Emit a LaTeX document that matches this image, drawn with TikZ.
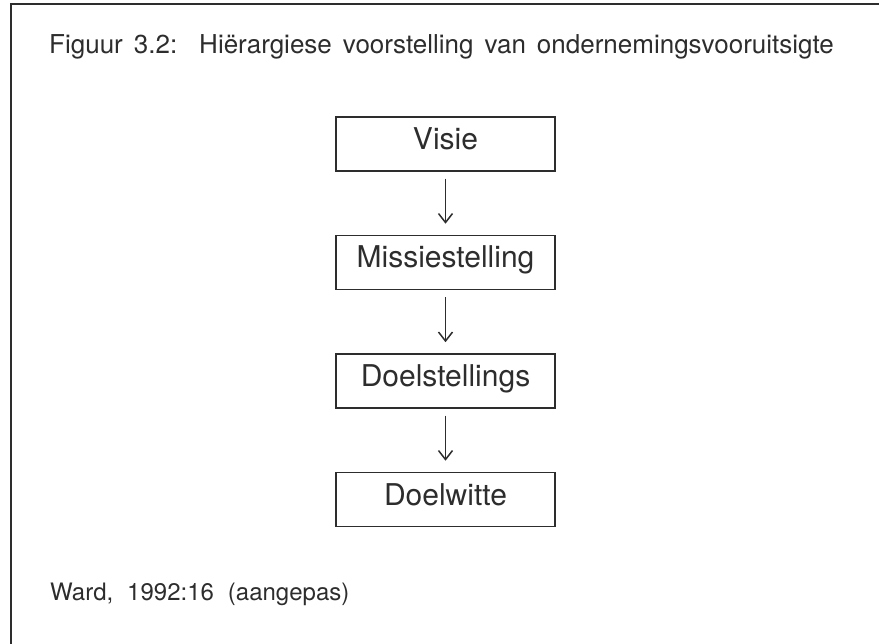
\documentclass[tikz,border=0pt]{standalone}
\usepackage{fontspec}
\setmainfont{TeX Gyre Heros}
\usetikzlibrary{positioning}
\usetikzlibrary{arrows.meta}
\definecolor{ink}{RGB}{45,45,45}
\newcommand\titelfont{\fontsize{26}{28}\selectfont\spaceskip=11pt\relax}
\newcommand\bronfont{\fontsize{24}{26}\selectfont\spaceskip=14pt\relax}

\begin{document}
\begin{tikzpicture}[x=1pt, y=-1pt,
  box/.style={draw=ink, line width=1.5pt, minimum width=219pt, minimum height=54pt,
              inner sep=0pt, text height=21pt, text depth=10pt,
              font=\fontsize{30}{32}\selectfont, text=ink},
  flow/.style={draw=ink, line width=1.5pt,
               -{Straight Barb[length=9pt,width=14pt,line width=1.5pt]},
               shorten <=7pt, shorten >=11pt},
  caption/.style={anchor=base west, inner sep=0pt, text=ink}]

\useasboundingbox (0,0) rectangle (879,644);

%---------------------------------------
% Frame (left and top edge)
%---------------------------------------
\draw[ink, line width=1.5pt] (11,644) -- (11,4) -- (879,4);

% Caption and source
\node[caption, font=\titelfont] (titel) at (49,54)
  {Figuur 3.2:\ \ Hiërargiese voorstelling van ondernemingsvooruitsigte};
\node[caption, font=\bronfont] (bron) at (50,600)
  {Ward, 1992:16 (aangepas)};

%---------------------------------------
% Hierarchy
%---------------------------------------
\node[box] (visie) at (445.5,144) {Visie};
\node[box, below=63pt of visie] (missie) {Missiestelling};
\node[box, below=63pt of missie] (doelst) {Doelstellings};
\node[box, below=63pt of doelst] (doelwit) {Doelwitte};

\draw[flow] (visie) -- (missie);
\draw[flow] (missie) -- (doelst);
\draw[flow] (doelst) -- (doelwit);

\end{tikzpicture}
\end{document}
